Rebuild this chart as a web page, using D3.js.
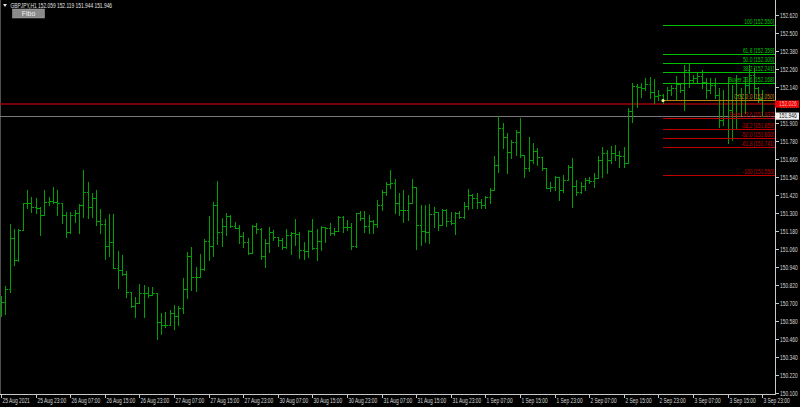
<!DOCTYPE html>
<html><head><meta charset="utf-8">
<script src="https://cdn.jsdelivr.net/npm/d3@7/dist/d3.min.js"></script>
<style>html,body{margin:0;padding:0;background:#000;overflow:hidden}svg{display:block}</style>
</head><body><svg id="c" width="800" height="407"></svg>
<script>
const headerText = "GBPJPY,H1 152.059 152.119 151.944 151.946";
const timeLabels = ["25 Aug 2021","25 Aug 23:00","26 Aug 07:00","26 Aug 15:00","26 Aug 23:00","27 Aug 07:00","27 Aug 15:00","27 Aug 23:00","30 Aug 07:00","30 Aug 15:00","30 Aug 23:00","31 Aug 07:00","31 Aug 15:00","31 Aug 23:00","1 Sep 07:00","1 Sep 15:00","1 Sep 23:00","2 Sep 07:00","2 Sep 15:00","2 Sep 23:00","3 Sep 07:00","3 Sep 15:00","3 Sep 23:00"];
const priceTicks = [152.620,152.500,152.380,152.260,152.140,152.020,151.900,151.780,151.660,151.540,151.420,151.300,151.180,151.060,150.940,150.820,150.700,150.580,150.460,150.340,150.220,150.100];
const opens = [
150.653,150.707,150.793,151.133,150.987,151.187,151.367,151.367,151.340,151.333,
151.287,151.373,151.380,151.373,151.367,151.287,151.173,151.287,151.300,151.353,
151.440,151.340,151.400,151.247,151.227,151.080,151.107,150.933,150.920,150.893,
150.773,150.680,150.700,150.767,150.767,150.753,150.767,150.573,150.553,150.553,
150.633,150.613,150.667,150.793,151.013,150.873,150.873,150.927,151.113,151.080,
151.353,151.173,151.213,151.280,151.213,151.200,151.147,151.107,151.033,151.213,
151.193,151.013,151.100,151.173,151.140,151.120,151.073,151.153,151.167,151.160,
151.053,151.047,151.180,151.067,151.113,151.207,151.200,151.167,151.180,151.273,
151.207,151.207,151.080,151.300,151.267,151.213,151.247,151.227,151.353,151.440,
151.493,151.500,151.367,151.320,151.320,151.367,151.473,151.220,151.180,151.173,
151.293,151.307,151.220,151.320,151.247,151.233,151.300,151.273,151.347,151.420,
151.400,151.373,151.353,151.407,151.453,151.620,151.867,151.807,151.707,151.773,
151.840,151.687,151.600,151.653,151.713,151.673,151.600,151.467,151.473,151.540,
151.453,151.520,151.607,151.480,151.440,151.480,151.520,151.513,151.533,151.653,
151.700,151.653,151.700,151.687,151.680,151.633,151.980,152.147,152.140,152.133,
152.160,152.107,152.080,152.087,152.053,152.120,152.133,152.160,152.120,152.253,
152.187,152.200,152.213,152.173,152.120,152.153,152.087,151.920,152.053,151.987,
152.053,152.087,152.053,152.153,152.220,152.133,152.059];
const highs = [
150.747,150.813,151.227,151.193,151.193,151.367,151.453,151.407,151.400,151.340,
151.453,151.407,151.473,151.453,151.367,151.307,151.307,151.320,151.360,151.587,
151.507,151.433,151.453,151.327,151.260,151.293,151.293,151.047,151.020,150.913,
150.773,150.740,150.827,150.820,150.807,150.807,150.767,150.633,150.640,150.653,
150.687,150.680,150.867,151.040,151.073,150.940,151.027,151.127,151.280,151.373,
151.513,151.267,151.300,151.287,151.240,151.220,151.173,151.133,151.220,151.233,
151.200,151.127,151.207,151.187,151.140,151.133,151.193,151.173,151.260,151.173,
151.107,151.187,151.260,151.193,151.213,151.207,151.233,151.200,151.280,151.280,
151.253,151.233,151.300,151.313,151.313,151.287,151.253,151.387,151.453,151.507,
151.587,151.527,151.433,151.453,151.420,151.527,151.473,151.353,151.353,151.360,
151.340,151.307,151.327,151.327,151.307,151.307,151.313,151.373,151.460,151.427,
151.433,151.393,151.413,151.467,151.680,151.947,151.900,151.833,151.787,151.853,
151.933,151.687,151.807,151.767,151.733,151.673,151.600,151.507,151.547,151.540,
151.553,151.620,151.667,151.520,151.507,151.533,151.540,151.567,151.680,151.740,
151.720,151.747,151.753,151.713,151.740,152.000,152.167,152.160,152.167,152.200,
152.207,152.193,152.120,152.093,152.140,152.153,152.213,152.160,152.287,152.293,
152.220,152.233,152.253,152.200,152.200,152.200,152.133,152.120,152.207,152.153,
152.220,152.133,152.207,152.287,152.267,152.140,152.119];
const lows = [
150.613,150.627,150.773,150.953,150.980,151.187,151.333,151.307,151.300,151.153,
151.287,151.353,151.367,151.287,151.233,151.140,151.167,151.240,151.167,151.273,
151.267,151.273,151.220,151.167,150.993,151.013,150.933,150.800,150.887,150.740,
150.673,150.607,150.700,150.607,150.740,150.753,150.460,150.493,150.540,150.553,
150.527,150.553,150.633,150.733,150.787,150.780,150.873,150.920,150.987,151.013,
151.093,151.080,151.153,151.207,151.200,151.100,151.073,151.027,151.033,151.167,
150.993,150.940,151.040,151.120,151.080,151.060,151.067,151.027,151.087,151.000,
150.993,151.007,151.060,150.987,151.053,151.107,151.153,151.153,151.180,151.173,
151.187,151.060,151.073,151.253,151.173,151.167,151.167,151.207,151.320,151.420,
151.467,151.300,151.287,151.240,151.253,151.367,151.060,151.087,151.107,151.100,
151.207,151.187,151.220,151.213,151.227,151.160,151.267,151.267,151.327,151.333,
151.333,151.333,151.333,151.367,151.453,151.573,151.733,151.567,151.667,151.687,
151.673,151.540,151.580,151.633,151.620,151.587,151.467,151.447,151.453,151.387,
151.440,151.520,151.340,151.420,151.433,151.453,151.500,151.473,151.533,151.540,
151.567,151.633,151.653,151.607,151.607,151.633,151.907,152.007,152.073,152.120,
152.067,152.033,152.053,152.033,152.053,152.087,152.053,152.107,151.987,152.140,
152.173,152.173,152.133,152.067,152.100,152.067,151.873,151.887,151.767,151.787,
151.867,151.953,151.967,152.100,152.067,152.040,151.944];
const closes = [
150.707,150.793,151.133,150.987,151.187,151.367,151.367,151.340,151.333,151.287,
151.373,151.380,151.373,151.367,151.287,151.173,151.287,151.300,151.353,151.440,
151.340,151.400,151.247,151.227,151.080,151.107,150.933,150.920,150.893,150.773,
150.680,150.700,150.767,150.767,150.753,150.767,150.573,150.553,150.553,150.633,
150.613,150.667,150.793,151.013,150.873,150.873,150.927,151.113,151.080,151.353,
151.173,151.213,151.280,151.213,151.200,151.147,151.107,151.033,151.213,151.193,
151.013,151.100,151.173,151.140,151.120,151.073,151.153,151.167,151.160,151.053,
151.047,151.180,151.067,151.113,151.207,151.200,151.167,151.180,151.273,151.207,
151.207,151.080,151.300,151.267,151.213,151.247,151.227,151.353,151.440,151.493,
151.500,151.367,151.320,151.320,151.367,151.473,151.220,151.180,151.173,151.293,
151.307,151.220,151.320,151.247,151.233,151.300,151.273,151.347,151.420,151.400,
151.373,151.353,151.407,151.453,151.620,151.867,151.807,151.707,151.773,151.840,
151.687,151.600,151.653,151.713,151.673,151.600,151.467,151.473,151.540,151.453,
151.520,151.607,151.480,151.440,151.480,151.520,151.513,151.533,151.653,151.700,
151.653,151.700,151.687,151.680,151.633,151.980,152.147,152.140,152.133,152.160,
152.107,152.080,152.087,152.053,152.120,152.133,152.160,152.120,152.253,152.187,
152.200,152.213,152.173,152.120,152.153,152.087,151.920,152.053,151.987,152.053,
152.087,152.053,152.153,152.220,152.133,152.059,151.946];
const fiboNames = ["100","61.8","50.0","38.2","Buyer 23.6","CGZ 0.0","Seller 23.6","-38.2","-50.0","-61.8","-100"];
const fiboPrices = [152.550,152.359,152.300,152.241,152.168,152.050,151.932,151.859,151.800,151.741,151.550];
const fiboKinds = ["up","up","up","up","up","zero","down","down","down","down","down"];
const redLinePrice = 152.026;
const bidPrice = 151.946;

const svg = d3.select("#c");
const W = 800, H = 407, plotR = 776, plotB = 395;
const FONT = "'Liberation Sans', Arial, sans-serif";
const n = closes.length;
const x = d3.scaleLinear().domain([0, n - 1]).range([1.5, 762.7]);
const y = d3.scaleLinear().domain([150.100, 152.620]).range([393, 15]);
const px = i => Math.floor(x(i)) + 0.5;
const py = v => Math.round(y(v)) + 0.5;

svg.append("rect").attr("width", W).attr("height", H).attr("fill", "#000");

function label(g, tx, ty, str, fill, anchor, size, sx) {
  return g.append("text")
    .attr("transform", `translate(${tx},${ty}) scale(${sx == null ? 0.75 : sx},1)`)
    .attr("fill", fill).attr("text-anchor", anchor || "start")
    .attr("font-family", FONT).attr("font-size", (size || 6.5) + "px")
    .text(str);
}

// left border
svg.append("line").attr("x1", 0.5).attr("x2", 0.5).attr("y1", 0).attr("y2", plotB)
  .attr("stroke", "#505050").attr("stroke-width", 1);

// full-width horizontal lines
svg.append("line").attr("x1", 0).attr("x2", plotR).attr("y1", y(redLinePrice)).attr("y2", y(redLinePrice))
  .attr("stroke", "#a00000").attr("stroke-width", 1.5);
svg.append("line").attr("x1", 0).attr("x2", plotR).attr("y1", py(bidPrice)).attr("y2", py(bidPrice))
  .attr("stroke", "#7a7a7a").attr("stroke-width", 1);

// bars
const gb = svg.append("g").attr("stroke", "#00a000").attr("stroke-width", 1).attr("shape-rendering", "crispEdges");
const idx = d3.range(n);
gb.selectAll("line.hl").data(idx).join("line").attr("class", "hl")
  .attr("x1", i => px(i)).attr("x2", i => px(i))
  .attr("y1", i => Math.round(y(highs[i]))).attr("y2", i => Math.round(y(lows[i])) + 1);
gb.selectAll("line.op").data(idx).join("line").attr("class", "op")
  .attr("x1", i => px(i) - 2).attr("x2", i => px(i))
  .attr("y1", i => py(opens[i])).attr("y2", i => py(opens[i]));
gb.selectAll("line.cl").data(idx).join("line").attr("class", "cl")
  .attr("x1", i => px(i)).attr("x2", i => px(i) + 2.5)
  .attr("y1", i => py(closes[i])).attr("y2", i => py(closes[i]));

// fibo
const fcol = { up: "#00c000", zero: "#c08010", down: "#c00000" };
const fx1 = 663, fx2 = 775;
const gf = svg.append("g");
fiboPrices.forEach((p, k) => {
  const yy = py(p);
  gf.append("line").attr("x1", fx1).attr("x2", fx2).attr("y1", yy).attr("y2", yy)
    .attr("stroke", fcol[fiboKinds[k]]).attr("stroke-width", 1);
  label(gf, 774, yy - 1.5, `${fiboNames[k]} [${p.toFixed(3)}]`, fcol[fiboKinds[k]], "end");
});
svg.append("circle").attr("cx", fx1).attr("cy", y(fiboPrices[5])).attr("r", 1.6).attr("fill", "#d8ff90");

// axes
const ga = svg.append("g");
ga.append("line").attr("x1", plotR - 0.5).attr("x2", plotR - 0.5).attr("y1", 0).attr("y2", plotB)
  .attr("stroke", "#c8c8c8");
ga.append("line").attr("x1", 0).attr("x2", plotR).attr("y1", plotB - 0.5).attr("y2", plotB - 0.5)
  .attr("stroke", "#c8c8c8");
priceTicks.forEach(p => {
  const yy = Math.round(y(p)) + 0.5;
  ga.append("line").attr("x1", plotR).attr("x2", plotR + 3).attr("y1", yy).attr("y2", yy).attr("stroke", "#c8c8c8");
  label(ga, 780, yy + 2.3, p.toFixed(3), "#d8d8d8");
});
timeLabels.forEach((t, k) => {
  const xx = px(k * 8);
  ga.append("line").attr("x1", xx).attr("x2", xx).attr("y1", plotB).attr("y2", plotB + 3).attr("stroke", "#c8c8c8");
  label(ga, xx + 1, 402.5, t, "#d8d8d8");
});

// price boxes
function box(p, bg, fg) {
  const yy = y(p);
  svg.append("rect").attr("x", plotR - 1).attr("y", yy - 3.6).attr("width", 24).attr("height", 7.2).attr("fill", bg);
  label(svg, 779, yy + 2.3, p.toFixed(3), fg);
}
box(redLinePrice, "#f00000", "#ffb8b8");
box(bidPrice, "#f0f0f0", "#202020");

// header
svg.append("path").attr("d", "M3,4 L7,4 L5,7 Z").attr("fill", "#e0e0e0");
label(svg, 10.5, 7.5, headerText, "#e0e0e0", "start", 6.5, 0.75);
svg.append("rect").attr("x", 12.5).attr("y", 9).attr("width", 32).attr("height", 9)
  .attr("fill", "#8a8a8a").attr("stroke", "#a8a8a8").attr("stroke-width", 0.5);
label(svg, 28.5, 16.3, "Fibo", "#f0f0f0", "middle", 7, 1);
</script></body></html>
